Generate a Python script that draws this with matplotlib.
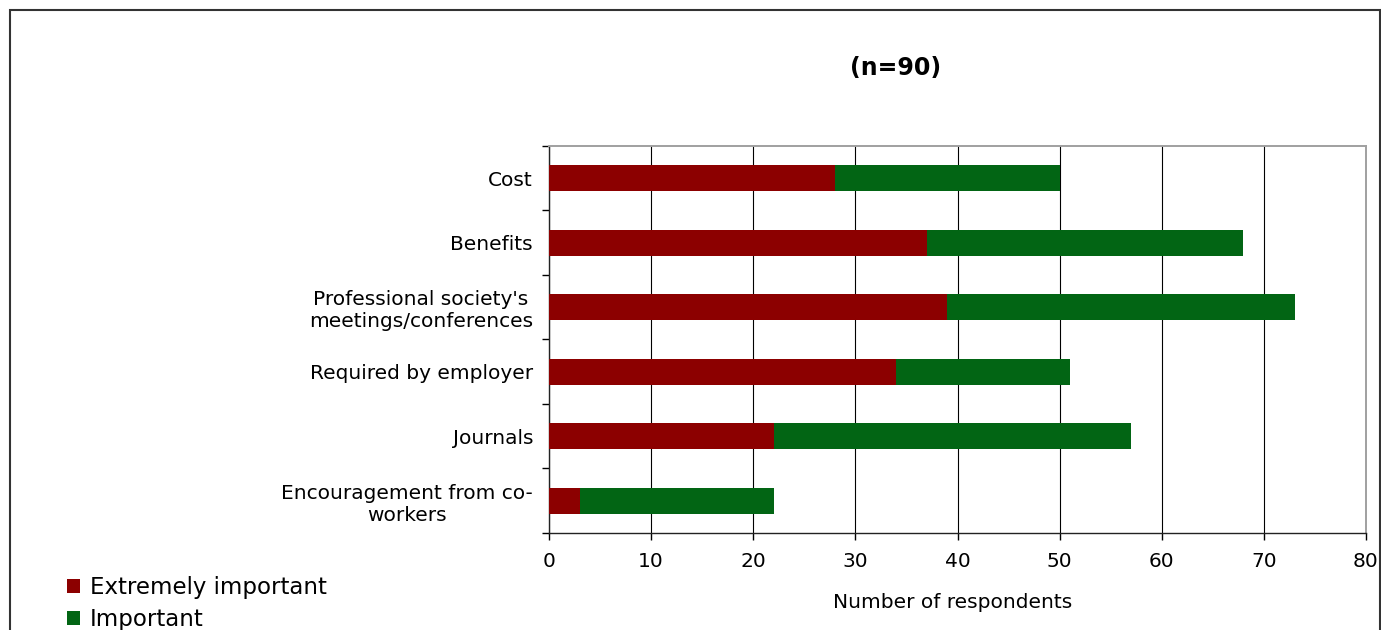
import matplotlib
matplotlib.use("Agg")
import matplotlib.pyplot as plt
from matplotlib.patches import Rectangle, Patch

# data
categories = ["Cost", "Benefits", "Professional society's\nmeetings/conferences",
              "Required by employer", "Journals", "Encouragement from co-\nworkers"]
extremely_important = [28, 37, 39, 34, 22, 3]
important = [22, 31, 34, 17, 35, 19]
x_ticks = [0, 10, 20, 30, 40, 50, 60, 70, 80]

red = "#8c0000"
green = "#026514"

W, H = 1381, 630
fig = plt.figure(figsize=(W / 100, H / 100), dpi=100)
ax = fig.add_axes([549 / W, 1 - 533 / H, (1366 - 549) / W, (533 - 146) / H])

y = list(range(len(categories)))
ax.barh(y, extremely_important, height=0.4, color=red, zorder=3)
ax.barh(y, important, left=extremely_important, height=0.4, color=green, zorder=3)

ax.set_xlim(0, 80)
ax.set_ylim(len(categories) - 0.5, -0.5)
ax.set_xticks(x_ticks)
ax.set_xticklabels([str(v) for v in x_ticks], fontsize=14.5)
ax.tick_params(axis="x", direction="out", length=5, width=1, pad=9)

ax.set_yticks(y)
ax.set_yticklabels(categories, fontsize=14.5)
for lbl in ax.get_yticklabels():
    lbl.set_multialignment("center")
ax.set_yticks([v - 0.5 for v in range(len(categories) + 1)], minor=True)
ax.tick_params(axis="y", which="major", length=0, pad=11.5)
ax.tick_params(axis="y", which="minor", direction="out", length=5, width=1)

ax.grid(axis="x", color="black", linewidth=0.8, zorder=0)
ax.set_axisbelow(True)

for s in ["top", "right"]:
    ax.spines[s].set_color("#a0a0a0")
    ax.spines[s].set_linewidth(1.4)
for s in ["left", "bottom"]:
    ax.spines[s].set_color("#222222")
    ax.spines[s].set_linewidth(1.0)

ax.set_xlabel("Number of respondents", fontsize=14.5, va="center")
ax.xaxis.set_label_coords((953 - 549) / (1366 - 549), -(603 - 533) / (533 - 146))

fig.text(896 / W, 1 - 68 / H, "(n=90)", fontsize=17, fontweight="bold",
         ha="center", va="center")

handles = [Patch(facecolor=red, label="Extremely important"),
           Patch(facecolor=green, label="Important")]
fig.legend(handles=handles, loc="upper left", bbox_to_anchor=(67 / W, 1 - 576 / H),
           frameon=False, fontsize=16.5, handlelength=0.55, handleheight=0.55,
           handletextpad=0.45, labelspacing=0.38, borderpad=0, borderaxespad=0)

# outer chart-area frame (bottom edge is cut off in the reference)
fig.add_artist(Rectangle((10 / W, -0.05), (1380 - 10) / W, 1.05 - 10 / H,
                         transform=fig.transFigure, fill=False,
                         edgecolor="#333333", linewidth=1.5))

fig.savefig("out.png", dpi=100)
